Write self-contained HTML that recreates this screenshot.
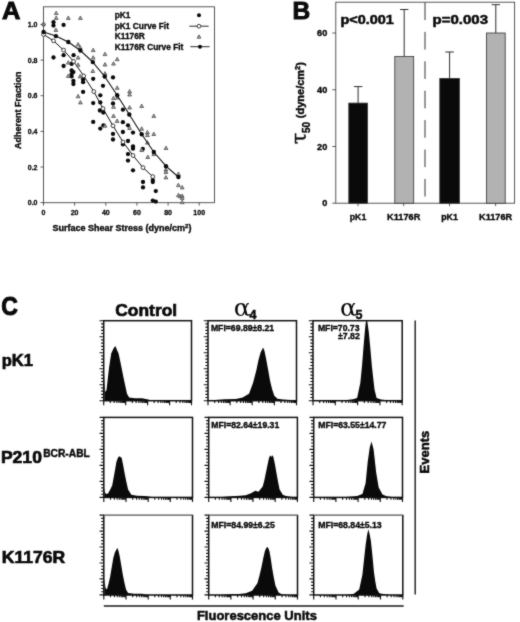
<!DOCTYPE html>
<html lang="en"><head><meta charset="utf-8"><title>Figure</title>
<style>html,body{margin:0;padding:0;background:#fff}svg{display:block}text{font-family:"Liberation Sans",Arial,Helvetica,sans-serif;font-weight:bold;fill:#0a0a0a;stroke:#0a0a0a;stroke-width:.04em}.gk{font-family:"DejaVu Serif","Liberation Serif",serif;font-weight:normal;stroke:none}.tau{stroke:#111;stroke-width:.45px}</style>
</head><body>
<svg width="520" height="622" viewBox="0 0 520 622">
<defs><filter id="soft" x="0" y="0" width="520" height="622" filterUnits="userSpaceOnUse" color-interpolation-filters="sRGB"><feConvolveMatrix order="3" kernelMatrix="0.025 0.085 0.025 0.085 0.56 0.085 0.025 0.085 0.025" edgeMode="duplicate" preserveAlpha="true"/></filter></defs>
<g filter="url(#soft)">
<rect width="520" height="622" fill="#fff"/>
<g id="panelA">
<text x="2" y="19" font-size="24.5" text-anchor="start" textLength="18.4" lengthAdjust="spacingAndGlyphs" >A</text>
<rect x="43.5" y="6.8" width="171.0" height="195.89999999999998" fill="none" stroke="#444" stroke-width="0.9"/>
<line x1="40.5" y1="202.6" x2="43.5" y2="202.6" stroke="#333" stroke-width="0.8"/>
<text x="37.5" y="205.1" font-size="7" text-anchor="end" >0.0</text>
<line x1="40.5" y1="167.0" x2="43.5" y2="167.0" stroke="#333" stroke-width="0.8"/>
<text x="37.5" y="169.5" font-size="7" text-anchor="end" >0.2</text>
<line x1="40.5" y1="131.4" x2="43.5" y2="131.4" stroke="#333" stroke-width="0.8"/>
<text x="37.5" y="133.9" font-size="7" text-anchor="end" >0.4</text>
<line x1="40.5" y1="95.7" x2="43.5" y2="95.7" stroke="#333" stroke-width="0.8"/>
<text x="37.5" y="98.2" font-size="7" text-anchor="end" >0.6</text>
<line x1="40.5" y1="60.1" x2="43.5" y2="60.1" stroke="#333" stroke-width="0.8"/>
<text x="37.5" y="62.6" font-size="7" text-anchor="end" >0.8</text>
<line x1="40.5" y1="24.5" x2="43.5" y2="24.5" stroke="#333" stroke-width="0.8"/>
<text x="37.5" y="27.0" font-size="7" text-anchor="end" >1.0</text>
<line x1="43.5" y1="202.7" x2="43.5" y2="205.7" stroke="#333" stroke-width="0.8"/>
<text x="43.5" y="215.4" font-size="7" text-anchor="middle" >0</text>
<line x1="74.6" y1="202.7" x2="74.6" y2="205.7" stroke="#333" stroke-width="0.8"/>
<text x="74.6" y="215.4" font-size="7" text-anchor="middle" >20</text>
<line x1="105.8" y1="202.7" x2="105.8" y2="205.7" stroke="#333" stroke-width="0.8"/>
<text x="105.8" y="215.4" font-size="7" text-anchor="middle" >40</text>
<line x1="136.9" y1="202.7" x2="136.9" y2="205.7" stroke="#333" stroke-width="0.8"/>
<text x="136.9" y="215.4" font-size="7" text-anchor="middle" >60</text>
<line x1="168.1" y1="202.7" x2="168.1" y2="205.7" stroke="#333" stroke-width="0.8"/>
<text x="168.1" y="215.4" font-size="7" text-anchor="middle" >80</text>
<line x1="199.2" y1="202.7" x2="199.2" y2="205.7" stroke="#333" stroke-width="0.8"/>
<text x="199.2" y="215.4" font-size="7" text-anchor="middle" >100</text>
<text x="122" y="231.3" font-size="9" text-anchor="middle" >Surface Shear Stress (dyne/cm<tspan font-size="6" dy="-3.5">2</tspan><tspan dy="3.5">)</tspan></text>
<text transform="translate(20.8,110.3) rotate(-90)" font-size="9" text-anchor="middle">Adherent Fraction</text>
<g fill="#0a0a0a">
<circle cx="53.5" cy="22.2" r="2.15"/>
<circle cx="53.5" cy="25.6" r="2.15"/>
<circle cx="63.6" cy="24.9" r="2.15"/>
<circle cx="53.5" cy="57.5" r="2.15"/>
<circle cx="63.6" cy="55.2" r="2.15"/>
<circle cx="73.6" cy="55.2" r="2.15"/>
<circle cx="63.6" cy="66" r="2.15"/>
<circle cx="71.6" cy="63.9" r="2.15"/>
<circle cx="71.6" cy="70.5" r="2.15"/>
<circle cx="73.4" cy="72.1" r="2.15"/>
<circle cx="71.6" cy="74.1" r="2.15"/>
<circle cx="71.6" cy="76.4" r="2.15"/>
<circle cx="73.4" cy="80.9" r="2.15"/>
<circle cx="73.4" cy="84" r="2.15"/>
<circle cx="83.1" cy="79.5" r="2.15"/>
<circle cx="83.1" cy="82.2" r="2.15"/>
<circle cx="83.1" cy="91.9" r="2.15"/>
<circle cx="93.2" cy="78.8" r="2.15"/>
<circle cx="93.2" cy="103.1" r="2.15"/>
<circle cx="93.2" cy="121.9" r="2.15"/>
<circle cx="103" cy="85.8" r="2.15"/>
<circle cx="100.3" cy="95.3" r="2.15"/>
<circle cx="100.3" cy="102.4" r="2.15"/>
<circle cx="99.9" cy="110.5" r="2.15"/>
<circle cx="103.3" cy="112.5" r="2.15"/>
<circle cx="100.3" cy="128.6" r="2.15"/>
<circle cx="113" cy="77.4" r="2.15"/>
<circle cx="113" cy="103.5" r="2.15"/>
<circle cx="122.9" cy="109.7" r="2.15"/>
<circle cx="103.4" cy="125.3" r="2.15"/>
<circle cx="122.9" cy="122.2" r="2.15"/>
<circle cx="128" cy="125.3" r="2.15"/>
<circle cx="113" cy="133.9" r="2.15"/>
<circle cx="113" cy="139.5" r="2.15"/>
<circle cx="122.9" cy="132" r="2.15"/>
<circle cx="133" cy="132.6" r="2.15"/>
<circle cx="128" cy="141" r="2.15"/>
<circle cx="122.9" cy="144.4" r="2.15"/>
<circle cx="133" cy="146.4" r="2.15"/>
<circle cx="133" cy="148.7" r="2.15"/>
<circle cx="142.8" cy="148.9" r="2.15"/>
<circle cx="128" cy="154.1" r="2.15"/>
<circle cx="128" cy="160.6" r="2.15"/>
<circle cx="133" cy="170.3" r="2.15"/>
<circle cx="143" cy="182" r="2.15"/>
<circle cx="143" cy="187.4" r="2.15"/>
<circle cx="152.8" cy="180.1" r="2.15"/>
<circle cx="152.8" cy="182" r="2.15"/>
<circle cx="155.8" cy="191.1" r="2.15"/>
<circle cx="152.8" cy="200.6" r="2.15"/>
<circle cx="155.8" cy="201.6" r="2.15"/>
</g>
<polyline fill="none" stroke="#111" stroke-width="1" points="43.6,34.5 53.5,40.8 63.6,50.1 73.6,61.4 83.7,75.9 93.8,91.6 103,108.6 113,125.8 123,142 133,155.5 143,167.6 152.8,176.6"/>
<g fill="#fff" stroke="#111" stroke-width="0.8">
<circle cx="43.6" cy="34.5" r="1.9"/>
<circle cx="53.5" cy="40.8" r="1.9"/>
<circle cx="63.6" cy="50.1" r="1.9"/>
<circle cx="73.6" cy="61.4" r="1.9"/>
<circle cx="83.7" cy="75.9" r="1.9"/>
<circle cx="93.8" cy="91.6" r="1.9"/>
<circle cx="103" cy="108.6" r="1.9"/>
<circle cx="113" cy="125.8" r="1.9"/>
<circle cx="123" cy="142" r="1.9"/>
<circle cx="133" cy="155.5" r="1.9"/>
<circle cx="143" cy="167.6" r="1.9"/>
<circle cx="152.8" cy="176.6" r="1.9"/>
</g>
<circle cx="43.6" cy="24.5" r="1.7" fill="#fff" stroke="#111" stroke-width="0.8"/>
<g fill="#a8a8a8" stroke="#444" stroke-width="0.75">
<path d="M54.3 14.6L58.1 14.6L56.2 11.2Z"/>
<path d="M54.3 19.4L58.1 19.4L56.2 16.0Z"/>
<path d="M66.4 19.4L70.2 19.4L68.3 16.0Z"/>
<path d="M78.5 19.4L82.3 19.4L80.4 16.0Z"/>
<path d="M54.0 31.4L57.8 31.4L55.9 28.0Z"/>
<path d="M76.2 45.9L80.0 45.9L78.1 42.5Z"/>
<path d="M78.2 48.9L82.0 48.9L80.1 45.5Z"/>
<path d="M91.3 51.6L95.1 51.6L93.2 48.2Z"/>
<path d="M103.1 55.6L106.9 55.6L105.0 52.2Z"/>
<path d="M76.2 59.1L80.0 59.1L78.1 55.7Z"/>
<path d="M91.3 59.1L95.1 59.1L93.2 55.7Z"/>
<path d="M66.4 64.1L70.2 64.1L68.3 60.7Z"/>
<path d="M76.2 66.3L80.0 66.3L78.1 62.9Z"/>
<path d="M103.1 66.0L106.9 66.0L105.0 62.6Z"/>
<path d="M42.5 25.4L44.7 25.4L43.6 23.4Z"/>
<path d="M90.9 72.5L94.7 72.5L92.8 69.1Z"/>
<path d="M103.1 75.0L106.9 75.0L105.0 71.6Z"/>
<path d="M66.4 77.4L70.2 77.4L68.3 74.0Z"/>
<path d="M78.2 77.9L82.0 77.9L80.1 74.5Z"/>
<path d="M76.2 97.8L80.0 97.8L78.1 94.4Z"/>
<path d="M78.5 103.9L82.3 103.9L80.4 100.5Z"/>
<path d="M103.1 127.2L106.9 127.2L105.0 123.8Z"/>
<path d="M111.6 65.1L115.4 65.1L113.5 61.7Z"/>
<path d="M115.3 60.7L119.1 60.7L117.2 57.3Z"/>
<path d="M115.3 89.3L119.1 89.3L117.2 85.9Z"/>
<path d="M127.7 92.9L131.5 92.9L129.6 89.5Z"/>
<path d="M127.7 96.0L131.5 96.0L129.6 92.6Z"/>
<path d="M111.6 99.6L115.4 99.6L113.5 96.2Z"/>
<path d="M115.6 99.1L119.4 99.1L117.5 95.7Z"/>
<path d="M111.6 108.3L115.4 108.3L113.5 104.9Z"/>
<path d="M127.7 109.0L131.5 109.0L129.6 105.6Z"/>
<path d="M139.8 107.5L143.6 107.5L141.7 104.1Z"/>
<path d="M111.6 117.4L115.4 117.4L113.5 114.0Z"/>
<path d="M115.2 122.4L119.0 122.4L117.1 119.0Z"/>
<path d="M151.9 117.4L155.7 117.4L153.8 114.0Z"/>
<path d="M127.7 129.5L131.5 129.5L129.6 126.1Z"/>
<path d="M139.8 130.2L143.6 130.2L141.7 126.8Z"/>
<path d="M145.5 133.8L149.3 133.8L147.4 130.4Z"/>
<path d="M145.5 136.5L149.3 136.5L147.4 133.1Z"/>
<path d="M151.9 135.5L155.7 135.5L153.8 132.1Z"/>
<path d="M145.5 144.1L149.3 144.1L147.4 140.7Z"/>
<path d="M139.8 151.5L143.6 151.5L141.7 148.1Z"/>
<path d="M164.1 149.5L167.9 149.5L166.0 146.1Z"/>
<path d="M145.9 158.5L149.7 158.5L147.8 155.1Z"/>
<path d="M151.9 155.6L155.7 155.6L153.8 152.2Z"/>
<path d="M164.0 171.1L167.8 171.1L165.9 167.7Z"/>
<path d="M164.0 173.5L167.8 173.5L165.9 170.1Z"/>
<path d="M164.0 178.9L167.8 178.9L165.9 175.5Z"/>
<path d="M176.5 175.4L180.3 175.4L178.4 172.0Z"/>
<path d="M176.5 186.6L180.3 186.6L178.4 183.2Z"/>
<path d="M176.5 196.7L180.3 196.7L178.4 193.3Z"/>
<path d="M180.3 188.9L184.1 188.9L182.2 185.5Z"/>
<path d="M178.3 197.8L182.1 197.8L180.2 194.4Z"/>
<path d="M180.3 197.4L184.1 197.4L182.2 194.0Z"/>
<path d="M180.3 199.6L184.1 199.6L182.2 196.2Z"/>
<path d="M180.3 203.7L184.1 203.7L182.2 200.3Z"/>
</g>
<polyline fill="none" stroke="#111" stroke-width="1.1" points="43.6,32 55.9,36.1 68.3,42 80.4,50.5 92.8,62.1 104.7,76.5 117.2,95.2 129.3,114.5 141.7,134.3 153.8,152 166,166.2 178.4,177"/>
<g fill="#0a0a0a">
<circle cx="43.6" cy="32" r="2.2"/>
<circle cx="55.9" cy="36.1" r="2.2"/>
<circle cx="68.3" cy="42" r="2.2"/>
<circle cx="80.4" cy="50.5" r="2.2"/>
<circle cx="92.8" cy="62.1" r="2.2"/>
<circle cx="104.7" cy="76.5" r="2.2"/>
<circle cx="117.2" cy="95.2" r="2.2"/>
<circle cx="129.3" cy="114.5" r="2.2"/>
<circle cx="141.7" cy="134.3" r="2.2"/>
<circle cx="153.8" cy="152" r="2.2"/>
<circle cx="166" cy="166.2" r="2.2"/>
<circle cx="178.4" cy="177" r="2.2"/>
</g>
<text x="114.7" y="18.2" font-size="8.35" text-anchor="start" >pK1</text>
<text x="114.7" y="28.6" font-size="8.35" text-anchor="start" >pK1 Curve Fit</text>
<text x="114.7" y="39.1" font-size="8.35" text-anchor="start" >K1176R</text>
<text x="114.7" y="49.5" font-size="8.35" text-anchor="start" >K1176R Curve Fit</text>
<circle cx="199" cy="15.3" r="2" fill="#0a0a0a"/>
<line x1="189.3" y1="26.2" x2="208.6" y2="26.2" stroke="#111" stroke-width="0.9"/>
<circle cx="199" cy="26.2" r="1.9" fill="#fff" stroke="#111" stroke-width="0.8"/>
<g fill="#a8a8a8" stroke="#444" stroke-width="0.75"><path d="M197.1 38.2L200.9 38.2L199.0 34.8Z"/></g>
<line x1="190.3" y1="46.7" x2="209.6" y2="46.7" stroke="#111" stroke-width="0.9"/>
<circle cx="200" cy="46.7" r="2" fill="#0a0a0a"/>
</g>
<g id="panelB">
<text x="292.4" y="19.3" font-size="24.5" text-anchor="start" >B</text>
<rect x="335.8" y="2.2" width="178.8" height="201.0" fill="none" stroke="#444" stroke-width="0.9"/>
<line x1="332.3" y1="203.2" x2="335.8" y2="203.2" stroke="#333" stroke-width="0.8"/>
<text x="327.3" y="206.2" font-size="9" text-anchor="end" textLength="5.1" lengthAdjust="spacingAndGlyphs" >0</text>
<line x1="332.3" y1="146.5" x2="335.8" y2="146.5" stroke="#333" stroke-width="0.8"/>
<text x="327.3" y="149.5" font-size="9" text-anchor="end" textLength="10.2" lengthAdjust="spacingAndGlyphs" >20</text>
<line x1="332.3" y1="89.8" x2="335.8" y2="89.8" stroke="#333" stroke-width="0.8"/>
<text x="327.3" y="92.8" font-size="9" text-anchor="end" textLength="10.2" lengthAdjust="spacingAndGlyphs" >40</text>
<line x1="332.3" y1="33.0" x2="335.8" y2="33.0" stroke="#333" stroke-width="0.8"/>
<text x="327.3" y="36.0" font-size="9" text-anchor="end" textLength="10.2" lengthAdjust="spacingAndGlyphs" >60</text>
<line x1="358.1" y1="103.1" x2="358.1" y2="86.6" stroke="#222" stroke-width="0.95"/>
<line x1="353.9" y1="86.6" x2="362.3" y2="86.6" stroke="#222" stroke-width="0.95"/>
<rect x="348.8" y="103.1" width="18.7" height="100.1" fill="#0a0a0a" stroke="#333" stroke-width="0.8"/>
<line x1="358" y1="203.2" x2="358" y2="206.2" stroke="#333" stroke-width="0.8"/>
<text x="358" y="219.7" font-size="8.3" text-anchor="middle" textLength="16.6" lengthAdjust="spacingAndGlyphs" >pK1</text>
<line x1="404.2" y1="56.4" x2="404.2" y2="9.5" stroke="#222" stroke-width="0.95"/>
<line x1="400.1" y1="9.5" x2="408.4" y2="9.5" stroke="#222" stroke-width="0.95"/>
<rect x="394.8" y="56.4" width="18.9" height="146.8" fill="#b2b2b2" stroke="#333" stroke-width="0.8"/>
<line x1="403.7" y1="203.2" x2="403.7" y2="206.2" stroke="#333" stroke-width="0.8"/>
<text x="403.7" y="219.7" font-size="8.3" text-anchor="middle" textLength="33.2" lengthAdjust="spacingAndGlyphs" >K1176R</text>
<line x1="449.6" y1="78.4" x2="449.6" y2="52.0" stroke="#222" stroke-width="0.95"/>
<line x1="445.4" y1="52.0" x2="453.8" y2="52.0" stroke="#222" stroke-width="0.95"/>
<rect x="439.8" y="78.4" width="19.6" height="124.8" fill="#0a0a0a" stroke="#333" stroke-width="0.8"/>
<line x1="449.5" y1="203.2" x2="449.5" y2="206.2" stroke="#333" stroke-width="0.8"/>
<text x="449.5" y="219.7" font-size="8.3" text-anchor="middle" textLength="16.6" lengthAdjust="spacingAndGlyphs" >pK1</text>
<line x1="495.8" y1="33.0" x2="495.8" y2="4.7" stroke="#222" stroke-width="0.95"/>
<line x1="491.6" y1="4.7" x2="500.0" y2="4.7" stroke="#222" stroke-width="0.95"/>
<rect x="486.4" y="33.0" width="18.8" height="170.2" fill="#b2b2b2" stroke="#333" stroke-width="0.8"/>
<line x1="495.6" y1="203.2" x2="495.6" y2="206.2" stroke="#333" stroke-width="0.8"/>
<text x="495.6" y="219.7" font-size="8.3" text-anchor="middle" textLength="33.2" lengthAdjust="spacingAndGlyphs" >K1176R</text>
<line x1="425" y1="2.5" x2="425" y2="203" stroke="#333" stroke-width="1" stroke-dasharray="17.6 11.8"/>
<text x="340.4" y="23.9" font-size="13.5" text-anchor="start" textLength="53.4" lengthAdjust="spacingAndGlyphs" >p&lt;0.001</text>
<text x="432.6" y="23.9" font-size="13.5" text-anchor="start" textLength="55.4" lengthAdjust="spacingAndGlyphs" >p=0.003</text>
<text class="gk tau" transform="translate(305.9,144) rotate(-90)" font-size="20.5">τ</text>
<text transform="translate(309.5,133) rotate(-90)" font-size="10">50</text>
<text transform="translate(304.4,118.2) rotate(-90)" font-size="11">(dyne/cm<tspan font-size="7.5" dy="-4.2">2</tspan><tspan dy="4.2">)</tspan></text>
</g>
<g id="panelC">
<text x="1.2" y="315.4" font-size="25.5" text-anchor="start" textLength="16.6" lengthAdjust="spacingAndGlyphs" >C</text>
<text x="1.7" y="365.5" font-size="17" text-anchor="start" textLength="31.3" lengthAdjust="spacingAndGlyphs" >pK1</text>
<text x="0.9" y="462.7" font-size="17" text-anchor="start" textLength="41" lengthAdjust="spacingAndGlyphs" >P210</text>
<text x="43.2" y="456.9" font-size="10.5" text-anchor="start" textLength="46.6" lengthAdjust="spacingAndGlyphs" >BCR-ABL</text>
<text x="1.8" y="562.5" font-size="17" text-anchor="start" textLength="63.4" lengthAdjust="spacingAndGlyphs" >K1176R</text>
<text x="146.2" y="315.6" font-size="17.3" text-anchor="middle" textLength="61.8" lengthAdjust="spacingAndGlyphs" >Control</text>
<text class="gk" x="233.8" y="316.4" font-size="25">α</text>
<text x="249.6" y="319" font-size="12.5" text-anchor="start" >4</text>
<text class="gk" x="340" y="316.4" font-size="25">α</text>
<text x="355.6" y="319" font-size="12.5" text-anchor="start" >5</text>
<path fill="#0a0a0a" d="M104.3 400.0L104.3 372.0L105.2 392.0L106.5 390.0L109.0 368.0L111.2 353.5L113.5 348.5L115.4 346.0L117.0 350.0L118.6 353.5L121.0 365.0L123.8 378.9L127.0 393.7L129.1 397.5L135.0 398.3L142.0 398.2L147.0 399.3L150.0 400.0Z"/>
<rect x="103.7" y="320.7" width="87.8" height="80.0" fill="none" stroke="#111" stroke-width="1.5"/>
<path d="M103.7 400.7v4.6M110.3 400.7v2.4M114.2 400.7v2.4M116.9 400.7v2.4M119.0 400.7v2.4M120.8 400.7v2.4M122.2 400.7v2.4M123.5 400.7v2.4M124.6 400.7v2.4M125.7 400.7v4.6M132.3 400.7v2.4M136.1 400.7v2.4M138.9 400.7v2.4M141.0 400.7v2.4M142.7 400.7v2.4M144.2 400.7v2.4M145.5 400.7v2.4M146.6 400.7v2.4M147.6 400.7v4.6M154.2 400.7v2.4M158.1 400.7v2.4M160.8 400.7v2.4M162.9 400.7v2.4M164.7 400.7v2.4M166.1 400.7v2.4M167.4 400.7v2.4M168.5 400.7v2.4M169.6 400.7v4.6M176.2 400.7v2.4M180.0 400.7v2.4M182.8 400.7v2.4M184.9 400.7v2.4M186.6 400.7v2.4M188.1 400.7v2.4M189.4 400.7v2.4M190.5 400.7v2.4M191.5 400.7v4.6" stroke="#111" stroke-width="1.15" fill="none"/>
<path d="M103.7 400.7h-4.2M103.7 397.5h-2.6M103.7 394.3h-2.6M103.7 391.1h-2.6M103.7 387.9h-2.6M103.7 384.7h-4.2M103.7 381.5h-2.6M103.7 378.3h-2.6M103.7 375.1h-2.6M103.7 371.9h-2.6M103.7 368.7h-4.2M103.7 365.5h-2.6M103.7 362.3h-2.6M103.7 359.1h-2.6M103.7 355.9h-2.6M103.7 352.7h-4.2M103.7 349.5h-2.6M103.7 346.3h-2.6M103.7 343.1h-2.6M103.7 339.9h-2.6M103.7 336.7h-4.2M103.7 333.5h-2.6M103.7 330.3h-2.6M103.7 327.1h-2.6M103.7 323.9h-2.6M103.7 320.7h-4.2" stroke="#111" stroke-width="1.15" fill="none"/>
<path fill="#0a0a0a" d="M215.0 400.0L225.0 399.3L236.0 399.0L242.6 397.5L249.0 393.7L253.0 383.0L256.3 370.4L258.5 360.0L260.6 352.4L263.1 347.5L264.5 351.0L265.9 357.7L268.0 369.0L270.1 381.0L272.2 389.5L274.3 395.8L277.5 398.8L283.0 399.5L290.0 400.0Z"/>
<rect x="208.0" y="320.7" width="88.5" height="80.0" fill="none" stroke="#111" stroke-width="1.5"/>
<path d="M208.0 400.7v4.6M214.7 400.7v2.4M218.6 400.7v2.4M221.3 400.7v2.4M223.5 400.7v2.4M225.2 400.7v2.4M226.7 400.7v2.4M228.0 400.7v2.4M229.1 400.7v2.4M230.1 400.7v4.6M236.8 400.7v2.4M240.7 400.7v2.4M243.4 400.7v2.4M245.6 400.7v2.4M247.3 400.7v2.4M248.8 400.7v2.4M250.1 400.7v2.4M251.2 400.7v2.4M252.2 400.7v4.6M258.9 400.7v2.4M262.8 400.7v2.4M265.6 400.7v2.4M267.7 400.7v2.4M269.5 400.7v2.4M270.9 400.7v2.4M272.2 400.7v2.4M273.4 400.7v2.4M274.4 400.7v4.6M281.0 400.7v2.4M284.9 400.7v2.4M287.7 400.7v2.4M289.8 400.7v2.4M291.6 400.7v2.4M293.1 400.7v2.4M294.4 400.7v2.4M295.5 400.7v2.4M296.5 400.7v4.6" stroke="#111" stroke-width="1.15" fill="none"/>
<path d="M208.0 400.7h-4.2M208.0 397.5h-2.6M208.0 394.3h-2.6M208.0 391.1h-2.6M208.0 387.9h-2.6M208.0 384.7h-4.2M208.0 381.5h-2.6M208.0 378.3h-2.6M208.0 375.1h-2.6M208.0 371.9h-2.6M208.0 368.7h-4.2M208.0 365.5h-2.6M208.0 362.3h-2.6M208.0 359.1h-2.6M208.0 355.9h-2.6M208.0 352.7h-4.2M208.0 349.5h-2.6M208.0 346.3h-2.6M208.0 343.1h-2.6M208.0 339.9h-2.6M208.0 336.7h-4.2M208.0 333.5h-2.6M208.0 330.3h-2.6M208.0 327.1h-2.6M208.0 323.9h-2.6M208.0 320.7h-4.2" stroke="#111" stroke-width="1.15" fill="none"/>
<text x="210.9" y="330.8" font-size="8.7" text-anchor="start" textLength="63.3" lengthAdjust="spacingAndGlyphs" >MFI=69.89±8.21</text>
<path fill="#0a0a0a" d="M347.0 400.0L353.0 399.3L357.1 398.0L360.3 383.0L362.0 366.0L363.5 347.0L364.8 332.0L365.6 323.8L366.2 320.5L367.2 320.5L368.8 332.3L370.3 348.0L371.9 366.2L373.3 379.0L374.5 389.4L376.6 398.0L381.0 399.4L385.0 400.0Z"/>
<rect x="313.0" y="320.7" width="89.2" height="80.0" fill="none" stroke="#111" stroke-width="1.5"/>
<path d="M313.0 400.7v4.6M319.7 400.7v2.4M323.6 400.7v2.4M326.4 400.7v2.4M328.6 400.7v2.4M330.4 400.7v2.4M331.8 400.7v2.4M333.1 400.7v2.4M334.3 400.7v2.4M335.3 400.7v4.6M342.0 400.7v2.4M345.9 400.7v2.4M348.7 400.7v2.4M350.9 400.7v2.4M352.7 400.7v2.4M354.1 400.7v2.4M355.4 400.7v2.4M356.6 400.7v2.4M357.6 400.7v4.6M364.3 400.7v2.4M368.2 400.7v2.4M371.0 400.7v2.4M373.2 400.7v2.4M375.0 400.7v2.4M376.4 400.7v2.4M377.7 400.7v2.4M378.9 400.7v2.4M379.9 400.7v4.6M386.6 400.7v2.4M390.5 400.7v2.4M393.3 400.7v2.4M395.5 400.7v2.4M397.3 400.7v2.4M398.7 400.7v2.4M400.0 400.7v2.4M401.2 400.7v2.4M402.2 400.7v4.6" stroke="#111" stroke-width="1.15" fill="none"/>
<path d="M313.0 400.7h-4.2M313.0 397.5h-2.6M313.0 394.3h-2.6M313.0 391.1h-2.6M313.0 387.9h-2.6M313.0 384.7h-4.2M313.0 381.5h-2.6M313.0 378.3h-2.6M313.0 375.1h-2.6M313.0 371.9h-2.6M313.0 368.7h-4.2M313.0 365.5h-2.6M313.0 362.3h-2.6M313.0 359.1h-2.6M313.0 355.9h-2.6M313.0 352.7h-4.2M313.0 349.5h-2.6M313.0 346.3h-2.6M313.0 343.1h-2.6M313.0 339.9h-2.6M313.0 336.7h-4.2M313.0 333.5h-2.6M313.0 330.3h-2.6M313.0 327.1h-2.6M313.0 323.9h-2.6M313.0 320.7h-4.2" stroke="#111" stroke-width="1.15" fill="none"/>
<text x="317.9" y="330.8" font-size="8.7" text-anchor="start" textLength="41.6" lengthAdjust="spacingAndGlyphs" >MFI=70.73</text>
<text x="359.8" y="339.3" font-size="8.7" text-anchor="end" textLength="21.8" lengthAdjust="spacingAndGlyphs" >±7.82</text>
<path fill="#0a0a0a" d="M104.3 497.0L104.3 488.0L105.2 493.0L106.5 494.0L108.0 493.5L110.0 490.0L112.2 485.4L114.5 473.0L116.4 462.1L118.0 457.5L119.6 456.2L121.7 457.9L123.3 466.0L124.9 474.8L126.5 482.5L128.1 489.6L131.3 494.7L137.0 495.8L145.0 496.0L152.0 497.0Z"/>
<rect x="103.8" y="417.4" width="88.7" height="80.0" fill="none" stroke="#111" stroke-width="1.5"/>
<path d="M103.8 497.4v4.6M110.5 497.4v2.4M114.4 497.4v2.4M117.2 497.4v2.4M119.3 497.4v2.4M121.1 497.4v2.4M122.5 497.4v2.4M123.8 497.4v2.4M125.0 497.4v2.4M126.0 497.4v4.6M132.7 497.4v2.4M136.6 497.4v2.4M139.3 497.4v2.4M141.5 497.4v2.4M143.2 497.4v2.4M144.7 497.4v2.4M146.0 497.4v2.4M147.1 497.4v2.4M148.2 497.4v4.6M154.8 497.4v2.4M158.7 497.4v2.4M161.5 497.4v2.4M163.6 497.4v2.4M165.4 497.4v2.4M166.9 497.4v2.4M168.2 497.4v2.4M169.3 497.4v2.4M170.3 497.4v4.6M177.0 497.4v2.4M180.9 497.4v2.4M183.7 497.4v2.4M185.8 497.4v2.4M187.6 497.4v2.4M189.1 497.4v2.4M190.4 497.4v2.4M191.5 497.4v2.4M192.5 497.4v4.6" stroke="#111" stroke-width="1.15" fill="none"/>
<path d="M103.8 497.4h-4.2M103.8 494.2h-2.6M103.8 491.0h-2.6M103.8 487.8h-2.6M103.8 484.6h-2.6M103.8 481.4h-4.2M103.8 478.2h-2.6M103.8 475.0h-2.6M103.8 471.8h-2.6M103.8 468.6h-2.6M103.8 465.4h-4.2M103.8 462.2h-2.6M103.8 459.0h-2.6M103.8 455.8h-2.6M103.8 452.6h-2.6M103.8 449.4h-4.2M103.8 446.2h-2.6M103.8 443.0h-2.6M103.8 439.8h-2.6M103.8 436.6h-2.6M103.8 433.4h-4.2M103.8 430.2h-2.6M103.8 427.0h-2.6M103.8 423.8h-2.6M103.8 420.6h-2.6M103.8 417.4h-4.2" stroke="#111" stroke-width="1.15" fill="none"/>
<path fill="#0a0a0a" d="M222.0 497.0L231.0 496.2L240.0 495.8L245.8 495.3L251.0 493.3L255.3 490.7L258.5 491.7L262.7 486.4L264.4 480.0L265.9 472.7L267.5 465.0L269.0 457.9L270.2 455.3L271.2 457.0L272.3 455.3L273.3 456.8L274.9 464.0L276.4 472.7L278.0 481.5L279.6 489.6L282.8 494.8L286.0 496.0L292.0 497.0Z"/>
<rect x="208.7" y="417.4" width="88.7" height="80.0" fill="none" stroke="#111" stroke-width="1.5"/>
<path d="M208.7 497.4v4.6M215.4 497.4v2.4M219.3 497.4v2.4M222.1 497.4v2.4M224.2 497.4v2.4M226.0 497.4v2.4M227.4 497.4v2.4M228.7 497.4v2.4M229.9 497.4v2.4M230.9 497.4v4.6M237.6 497.4v2.4M241.5 497.4v2.4M244.2 497.4v2.4M246.4 497.4v2.4M248.1 497.4v2.4M249.6 497.4v2.4M250.9 497.4v2.4M252.0 497.4v2.4M253.0 497.4v4.6M259.7 497.4v2.4M263.6 497.4v2.4M266.4 497.4v2.4M268.5 497.4v2.4M270.3 497.4v2.4M271.8 497.4v2.4M273.1 497.4v2.4M274.2 497.4v2.4M275.2 497.4v4.6M281.9 497.4v2.4M285.8 497.4v2.4M288.6 497.4v2.4M290.7 497.4v2.4M292.5 497.4v2.4M294.0 497.4v2.4M295.3 497.4v2.4M296.4 497.4v2.4M297.4 497.4v4.6" stroke="#111" stroke-width="1.15" fill="none"/>
<path d="M208.7 497.4h-4.2M208.7 494.2h-2.6M208.7 491.0h-2.6M208.7 487.8h-2.6M208.7 484.6h-2.6M208.7 481.4h-4.2M208.7 478.2h-2.6M208.7 475.0h-2.6M208.7 471.8h-2.6M208.7 468.6h-2.6M208.7 465.4h-4.2M208.7 462.2h-2.6M208.7 459.0h-2.6M208.7 455.8h-2.6M208.7 452.6h-2.6M208.7 449.4h-4.2M208.7 446.2h-2.6M208.7 443.0h-2.6M208.7 439.8h-2.6M208.7 436.6h-2.6M208.7 433.4h-4.2M208.7 430.2h-2.6M208.7 427.0h-2.6M208.7 423.8h-2.6M208.7 420.6h-2.6M208.7 417.4h-4.2" stroke="#111" stroke-width="1.15" fill="none"/>
<text x="211.3" y="428.1" font-size="8.7" text-anchor="start" textLength="67.9" lengthAdjust="spacingAndGlyphs" >MFI=82.64±19.31</text>
<path fill="#0a0a0a" d="M346.0 497.0L352.0 496.5L357.1 496.0L362.4 493.9L365.6 483.3L367.7 462.1L369.8 447.3L371.5 441.4L373.6 449.4L376.2 472.7L378.7 487.5L382.5 494.5L386.7 496.2L392.0 497.0Z"/>
<rect x="313.7" y="417.4" width="88.8" height="80.0" fill="none" stroke="#111" stroke-width="1.5"/>
<path d="M313.7 497.4v4.6M320.4 497.4v2.4M324.3 497.4v2.4M327.1 497.4v2.4M329.2 497.4v2.4M331.0 497.4v2.4M332.5 497.4v2.4M333.7 497.4v2.4M334.9 497.4v2.4M335.9 497.4v4.6M342.6 497.4v2.4M346.5 497.4v2.4M349.3 497.4v2.4M351.4 497.4v2.4M353.2 497.4v2.4M354.7 497.4v2.4M355.9 497.4v2.4M357.1 497.4v2.4M358.1 497.4v4.6M364.8 497.4v2.4M368.7 497.4v2.4M371.5 497.4v2.4M373.6 497.4v2.4M375.4 497.4v2.4M376.9 497.4v2.4M378.1 497.4v2.4M379.3 497.4v2.4M380.3 497.4v4.6M387.0 497.4v2.4M390.9 497.4v2.4M393.7 497.4v2.4M395.8 497.4v2.4M397.6 497.4v2.4M399.1 497.4v2.4M400.3 497.4v2.4M401.5 497.4v2.4M402.5 497.4v4.6" stroke="#111" stroke-width="1.15" fill="none"/>
<path d="M313.7 497.4h-4.2M313.7 494.2h-2.6M313.7 491.0h-2.6M313.7 487.8h-2.6M313.7 484.6h-2.6M313.7 481.4h-4.2M313.7 478.2h-2.6M313.7 475.0h-2.6M313.7 471.8h-2.6M313.7 468.6h-2.6M313.7 465.4h-4.2M313.7 462.2h-2.6M313.7 459.0h-2.6M313.7 455.8h-2.6M313.7 452.6h-2.6M313.7 449.4h-4.2M313.7 446.2h-2.6M313.7 443.0h-2.6M313.7 439.8h-2.6M313.7 436.6h-2.6M313.7 433.4h-4.2M313.7 430.2h-2.6M313.7 427.0h-2.6M313.7 423.8h-2.6M313.7 420.6h-2.6M313.7 417.4h-4.2" stroke="#111" stroke-width="1.15" fill="none"/>
<text x="318.2" y="428.1" font-size="8.7" text-anchor="start" textLength="68.2" lengthAdjust="spacingAndGlyphs" >MFI=63.55±14.77</text>
<path fill="#0a0a0a" d="M104.3 594.9L104.3 578.0L105.5 588.0L106.9 589.6L108.5 584.0L110.1 576.9L111.7 567.5L113.3 557.9L114.9 552.5L116.4 549.4L117.5 547.9L118.5 551.0L119.6 555.8L121.2 565.0L122.8 574.8L124.4 582.5L126.0 589.6L128.1 592.9L134.0 593.7L142.0 593.8L147.0 594.9Z"/>
<path d="M103.8 515.1V594.9H192.5V515.1" fill="none" stroke="#111" stroke-width="1.5"/>
<path d="M103.1 515.1H193.2" fill="none" stroke="#555" stroke-width="1.1"/>
<path d="M103.8 594.9v4.6M110.5 594.9v2.4M114.4 594.9v2.4M117.2 594.9v2.4M119.3 594.9v2.4M121.1 594.9v2.4M122.5 594.9v2.4M123.8 594.9v2.4M125.0 594.9v2.4M126.0 594.9v4.6M132.7 594.9v2.4M136.6 594.9v2.4M139.3 594.9v2.4M141.5 594.9v2.4M143.2 594.9v2.4M144.7 594.9v2.4M146.0 594.9v2.4M147.1 594.9v2.4M148.2 594.9v4.6M154.8 594.9v2.4M158.7 594.9v2.4M161.5 594.9v2.4M163.6 594.9v2.4M165.4 594.9v2.4M166.9 594.9v2.4M168.2 594.9v2.4M169.3 594.9v2.4M170.3 594.9v4.6M177.0 594.9v2.4M180.9 594.9v2.4M183.7 594.9v2.4M185.8 594.9v2.4M187.6 594.9v2.4M189.1 594.9v2.4M190.4 594.9v2.4M191.5 594.9v2.4M192.5 594.9v4.6" stroke="#111" stroke-width="1.15" fill="none"/>
<path d="M103.8 594.9h-4.2M103.8 591.7h-2.6M103.8 588.5h-2.6M103.8 585.3h-2.6M103.8 582.1h-2.6M103.8 578.9h-4.2M103.8 575.7h-2.6M103.8 572.6h-2.6M103.8 569.4h-2.6M103.8 566.2h-2.6M103.8 563.0h-4.2M103.8 559.8h-2.6M103.8 556.6h-2.6M103.8 553.4h-2.6M103.8 550.2h-2.6M103.8 547.0h-4.2M103.8 543.8h-2.6M103.8 540.6h-2.6M103.8 537.4h-2.6M103.8 534.3h-2.6M103.8 531.1h-4.2M103.8 527.9h-2.6M103.8 524.7h-2.6M103.8 521.5h-2.6M103.8 518.3h-2.6M103.8 515.1h-4.2" stroke="#111" stroke-width="1.15" fill="none"/>
<path fill="#0a0a0a" d="M222.0 594.9L231.0 594.2L239.0 593.9L245.8 593.2L252.1 590.7L257.4 583.3L259.5 575.5L261.6 566.4L263.2 558.5L264.8 551.5L266.2 548.0L267.4 546.9L268.5 548.5L269.5 551.5L270.9 559.5L272.2 568.5L273.8 577.5L275.4 585.4L278.6 592.5L281.7 594.2L288.0 594.9Z"/>
<path d="M208.7 515.1V594.9H297.5V515.1" fill="none" stroke="#111" stroke-width="1.5"/>
<path d="M208.0 515.1H298.2" fill="none" stroke="#555" stroke-width="1.1"/>
<path d="M208.7 594.9v4.6M215.4 594.9v2.4M219.3 594.9v2.4M222.1 594.9v2.4M224.2 594.9v2.4M226.0 594.9v2.4M227.5 594.9v2.4M228.7 594.9v2.4M229.9 594.9v2.4M230.9 594.9v4.6M237.6 594.9v2.4M241.5 594.9v2.4M244.3 594.9v2.4M246.4 594.9v2.4M248.2 594.9v2.4M249.7 594.9v2.4M250.9 594.9v2.4M252.1 594.9v2.4M253.1 594.9v4.6M259.8 594.9v2.4M263.7 594.9v2.4M266.5 594.9v2.4M268.6 594.9v2.4M270.4 594.9v2.4M271.9 594.9v2.4M273.1 594.9v2.4M274.3 594.9v2.4M275.3 594.9v4.6M282.0 594.9v2.4M285.9 594.9v2.4M288.7 594.9v2.4M290.8 594.9v2.4M292.6 594.9v2.4M294.1 594.9v2.4M295.3 594.9v2.4M296.5 594.9v2.4M297.5 594.9v4.6" stroke="#111" stroke-width="1.15" fill="none"/>
<path d="M208.7 594.9h-4.2M208.7 591.7h-2.6M208.7 588.5h-2.6M208.7 585.3h-2.6M208.7 582.1h-2.6M208.7 578.9h-4.2M208.7 575.7h-2.6M208.7 572.6h-2.6M208.7 569.4h-2.6M208.7 566.2h-2.6M208.7 563.0h-4.2M208.7 559.8h-2.6M208.7 556.6h-2.6M208.7 553.4h-2.6M208.7 550.2h-2.6M208.7 547.0h-4.2M208.7 543.8h-2.6M208.7 540.6h-2.6M208.7 537.4h-2.6M208.7 534.3h-2.6M208.7 531.1h-4.2M208.7 527.9h-2.6M208.7 524.7h-2.6M208.7 521.5h-2.6M208.7 518.3h-2.6M208.7 515.1h-4.2" stroke="#111" stroke-width="1.15" fill="none"/>
<text x="211.3" y="528.0" font-size="8.7" text-anchor="start" textLength="63.5" lengthAdjust="spacingAndGlyphs" >MFI=84.99±6.25</text>
<path fill="#0a0a0a" d="M345.0 594.9L350.0 594.4L353.9 593.8L359.2 589.6L362.4 574.8L364.0 560.0L365.6 545.2L367.0 535.5L368.3 529.3L369.6 534.0L370.9 541.0L372.5 556.5L374.0 572.7L375.3 581.5L376.6 588.6L379.3 593.2L384.6 594.3L390.0 594.9Z"/>
<path d="M313.7 515.1V594.9H402.8V515.1" fill="none" stroke="#111" stroke-width="1.5"/>
<path d="M313.0 515.1H403.5" fill="none" stroke="#555" stroke-width="1.1"/>
<path d="M313.7 594.9v4.6M320.4 594.9v2.4M324.3 594.9v2.4M327.1 594.9v2.4M329.3 594.9v2.4M331.0 594.9v2.4M332.5 594.9v2.4M333.8 594.9v2.4M335.0 594.9v2.4M336.0 594.9v4.6M342.7 594.9v2.4M346.6 594.9v2.4M349.4 594.9v2.4M351.5 594.9v2.4M353.3 594.9v2.4M354.8 594.9v2.4M356.1 594.9v2.4M357.2 594.9v2.4M358.2 594.9v4.6M365.0 594.9v2.4M368.9 594.9v2.4M371.7 594.9v2.4M373.8 594.9v2.4M375.6 594.9v2.4M377.1 594.9v2.4M378.4 594.9v2.4M379.5 594.9v2.4M380.5 594.9v4.6M387.2 594.9v2.4M391.2 594.9v2.4M393.9 594.9v2.4M396.1 594.9v2.4M397.9 594.9v2.4M399.3 594.9v2.4M400.6 594.9v2.4M401.8 594.9v2.4M402.8 594.9v4.6" stroke="#111" stroke-width="1.15" fill="none"/>
<path d="M313.7 594.9h-4.2M313.7 591.7h-2.6M313.7 588.5h-2.6M313.7 585.3h-2.6M313.7 582.1h-2.6M313.7 578.9h-4.2M313.7 575.7h-2.6M313.7 572.6h-2.6M313.7 569.4h-2.6M313.7 566.2h-2.6M313.7 563.0h-4.2M313.7 559.8h-2.6M313.7 556.6h-2.6M313.7 553.4h-2.6M313.7 550.2h-2.6M313.7 547.0h-4.2M313.7 543.8h-2.6M313.7 540.6h-2.6M313.7 537.4h-2.6M313.7 534.3h-2.6M313.7 531.1h-4.2M313.7 527.9h-2.6M313.7 524.7h-2.6M313.7 521.5h-2.6M313.7 518.3h-2.6M313.7 515.1h-4.2" stroke="#111" stroke-width="1.15" fill="none"/>
<text x="318.2" y="528.0" font-size="8.7" text-anchor="start" textLength="63.5" lengthAdjust="spacingAndGlyphs" >MFI=68.84±5.13</text>
<line x1="103.8" y1="606" x2="403.7" y2="606" stroke="#1a1a1a" stroke-width="1.4"/>
<line x1="415.2" y1="320.5" x2="415.2" y2="594.5" stroke="#1a1a1a" stroke-width="1.4"/>
<text x="196.9" y="619.5" font-size="13" text-anchor="start" textLength="120" lengthAdjust="spacingAndGlyphs" >Fluorescence Units</text>
<text transform="translate(429.2,452.1) rotate(-90)" font-size="13" text-anchor="middle">Events</text>
</g>
</g></svg></body></html>
